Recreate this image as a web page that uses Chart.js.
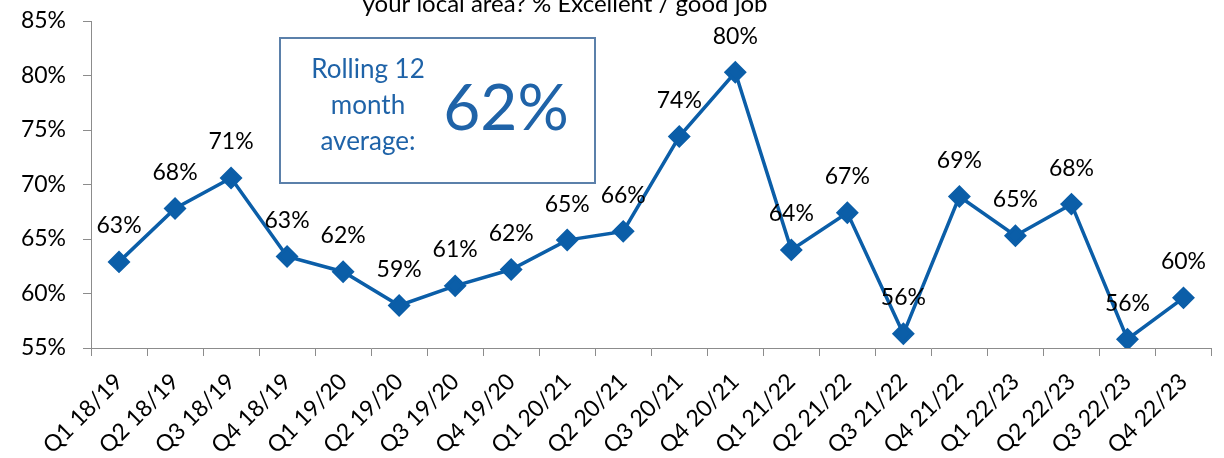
<!DOCTYPE html>
<html>
<head>
<meta charset="utf-8">
<script src="https://cdn.jsdelivr.net/npm/chart.js@4/dist/chart.umd.min.js"></script>
<style>
  html, body { margin: 0; background: #fff; }
  #wrap { width: 1224px; height: 458px; }
</style>
</head>
<body>
<div id="wrap"><canvas id="trend"></canvas></div>
<script>
const quarters = ['Q1 18/19', 'Q2 18/19', 'Q3 18/19', 'Q4 18/19', 'Q1 19/20', 'Q2 19/20', 'Q3 19/20', 'Q4 19/20',
  'Q1 20/21', 'Q2 20/21', 'Q3 20/21', 'Q4 20/21', 'Q1 21/22', 'Q2 21/22', 'Q3 21/22', 'Q4 21/22',
  'Q1 22/23', 'Q2 22/23', 'Q3 22/23', 'Q4 22/23'];
const excellentGood = [62.9, 67.8, 70.6, 63.4, 62.0, 58.9, 60.7, 62.2, 64.9, 65.7,
  74.4, 80.3, 64.0, 67.4, 56.3, 68.9, 65.3, 68.2, 55.8, 59.6];
const rollingAverage = 62;
const averageCaption = ['Rolling 12', 'month', 'average:'];
const titleText = 'your local area? % Excellent / good job';

const FONT = 'Lato, "Open Sans", sans-serif';
const BLUE = '#0b5ea8';
const AXIS = '#8c8c8c';

// percentage labels sitting above every marker
const pointLabels = {
  id: 'pointLabels',
  afterDatasetsDraw(chart) {
    const ctx = chart.ctx;
    const meta = chart.getDatasetMeta(0);
    ctx.save();
    ctx.font = '23px ' + FONT;
    ctx.fillStyle = '#000';
    ctx.textAlign = 'center';
    ctx.textBaseline = 'middle';
    meta.data.forEach((pt, i) => {
      ctx.fillText(Math.round(excellentGood[i]) + '%', pt.x, pt.y - 36);
    });
    ctx.restore();
  }
};

// title (its first line runs off the top) and the rolling average box
const overlay = {
  id: 'overlay',
  afterDraw(chart) {
    const ctx = chart.ctx;
    ctx.save();
    ctx.fillStyle = '#000';
    ctx.font = '24px ' + FONT;
    ctx.textAlign = 'center';
    ctx.textBaseline = 'alphabetic';
    ctx.fillText(titleText, 565, 12);

    ctx.fillStyle = '#fff';
    ctx.fillRect(280, 38, 315, 145);
    ctx.strokeStyle = '#5b80aa';
    ctx.lineWidth = 2;
    ctx.strokeRect(280, 38, 315, 145);

    ctx.fillStyle = '#1f63a8';
    ctx.textBaseline = 'middle';
    ctx.font = '26px ' + FONT;
    averageCaption.forEach((line, i) => ctx.fillText(line, 368, 70 + i * 36));
    ctx.font = '64px ' + FONT;
    ctx.fillText(rollingAverage + '%', 506, 109);
    ctx.restore();
  }
};

new Chart(document.getElementById('trend'), {
  type: 'line',
  data: {
    labels: quarters,
    datasets: [{
      data: excellentGood,
      borderColor: BLUE,
      borderWidth: 3.5,
      pointStyle: 'rectRot',
      pointRadius: 9,
      pointBackgroundColor: BLUE,
      pointBorderColor: BLUE,
      tension: 0
    }]
  },
  options: {
    responsive: true,
    maintainAspectRatio: false,
    animation: false,
    layout: { padding: { top: 21, right: 8, left: 0, bottom: 0 } },
    plugins: { legend: { display: false }, tooltip: { enabled: false } },
    scales: {
      x: {
        offset: true,
        grid: { drawOnChartArea: false, offset: true, tickLength: 8, color: AXIS },
        border: { color: AXIS, width: 1 },
        ticks: { minRotation: 45, maxRotation: 45, color: '#000', padding: 12, font: { family: FONT, size: 23 } },
        afterFit(scale) { scale.height = 110; }
      },
      y: {
        min: 55,
        max: 85,
        grid: { drawOnChartArea: false, tickLength: 8, color: AXIS },
        border: { color: AXIS, width: 1 },
        ticks: {
          stepSize: 5,
          color: '#000',
          padding: 17,
          font: { family: FONT, size: 23 },
          callback: v => v + '%'
        },
        afterFit(scale) {
          scale.width = 91;
          scale.paddingTop = 0;
          scale.paddingBottom = 0;
        }
      }
    }
  },
  plugins: [pointLabels, overlay]
});
</script>
</body>
</html>
